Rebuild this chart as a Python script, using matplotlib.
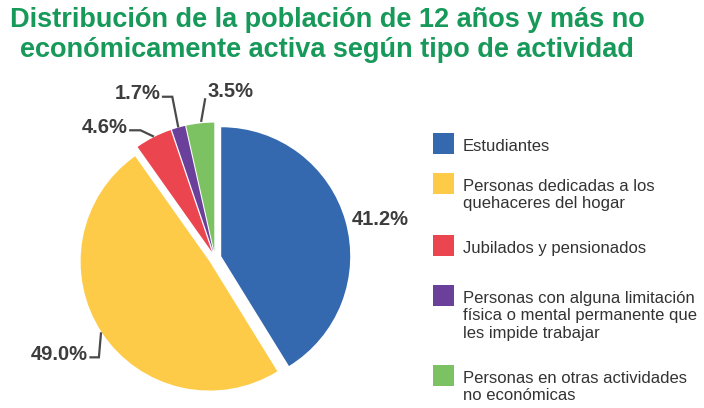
import numpy as np
import matplotlib
matplotlib.use('Agg')
import matplotlib.pyplot as plt
from matplotlib.patches import Rectangle

# datos
categorias = ['Estudiantes',
              'Personas dedicadas a los\nquehaceres del hogar',
              'Jubilados y pensionados',
              'Personas con alguna limitación\nfísica o mental permanente que\nles impide trabajar',
              'Personas en otras actividades\nno económicas']
valores = [41.2, 49.0, 4.6, 1.7, 3.5]
etiquetas = ['41.2%', '49.0%', '4.6%', '1.7%', '3.5%']
colores = ['#3469B0', '#FDCB47', '#EB4650', '#6A409A', '#7CC263']

titulo = ('Distribución de la población de 12 años y más no\n'
          'económicamente activa según tipo de actividad')

W, H = 704, 408
fig = plt.figure(figsize=(W / 100, H / 100), dpi=100)

# ejes del pastel: centro en (215, 150) px, radio 129 px
R = 129.0
cx, cy = 215.0, 150.0
xl, yl = (-1.65, 1.65), (-1.2, 1.45)
ax = fig.add_axes([(cx + xl[0] * R) / W, (cy + yl[0] * R) / H,
                   (xl[1] - xl[0]) * R / W, (yl[1] - yl[0]) * R / H])

explode = [0.05] * len(valores)
wedges, _ = ax.pie(valores, colors=colores, startangle=90, counterclock=False,
                   explode=explode, radius=1.0,
                   wedgeprops=dict(linewidth=0))
ax.set_xlim(*xl)
ax.set_ylim(*yl)
ax.set_aspect('equal', adjustable='box')
ax.axis('off')

# posiciones de etiquetas (x, y, ha, codo_x o None)
pos_etq = [(1.28, 0.30, 'center', None),
           (-0.985, -0.745, 'right', -0.9),
           (-0.677, 1.015, 'right', -0.577),
           (-0.423, 1.275, 'right', -0.331),
           (-0.062, 1.29, 'left', None)]

gris = '#3d3d3d'
for w, txt, (tx, ty, ha, codo) in zip(wedges, etiquetas, pos_etq):
    mid = np.deg2rad((w.theta1 + w.theta2) / 2)
    ax.text(tx, ty, txt, ha=ha, va='center', fontsize=14.5,
            fontweight='bold', color=gris, family='Liberation Sans')
    if txt == etiquetas[0]:
        continue
    ex, ey = 1.06 * np.cos(mid), 1.06 * np.sin(mid)
    if codo is not None:
        x0 = tx + 0.02
        y0 = ty - 0.025
        ax.plot([x0, codo, ex], [y0, y0, ey], color='#4a4a4a', lw=1.6,
                solid_joinstyle='miter')
    else:
        ax.plot([tx - 0.015, ex + 0.01], [ty - 0.06, ey + 0.01],
                color='#4a4a4a', lw=1.6)

# titulo
fig.text(0.465, 1 - 35 / H, titulo, ha='center', va='center',
         fontsize=19.5, fontweight='bold', color='#17995A',
         family='Liberation Sans', linespacing=1.2)

# leyenda: centro de la primera linea de cada entrada (px desde arriba)
y_leyenda = [145, 185, 247, 297, 377]
for cat, col, y in zip(categorias, colores, y_leyenda):
    fig.patches.append(Rectangle((433 / W, 1 - (y + 9) / H), 21 / W, 21 / H,
                                 transform=fig.transFigure, facecolor=col,
                                 edgecolor='none'))
    fig.text(463 / W, 1 - (y - 6) / H, cat, ha='left', va='top',
             fontsize=12, color='#333333', family='Liberation Sans',
             linespacing=1.2)

fig.savefig('out.png', dpi=100)
